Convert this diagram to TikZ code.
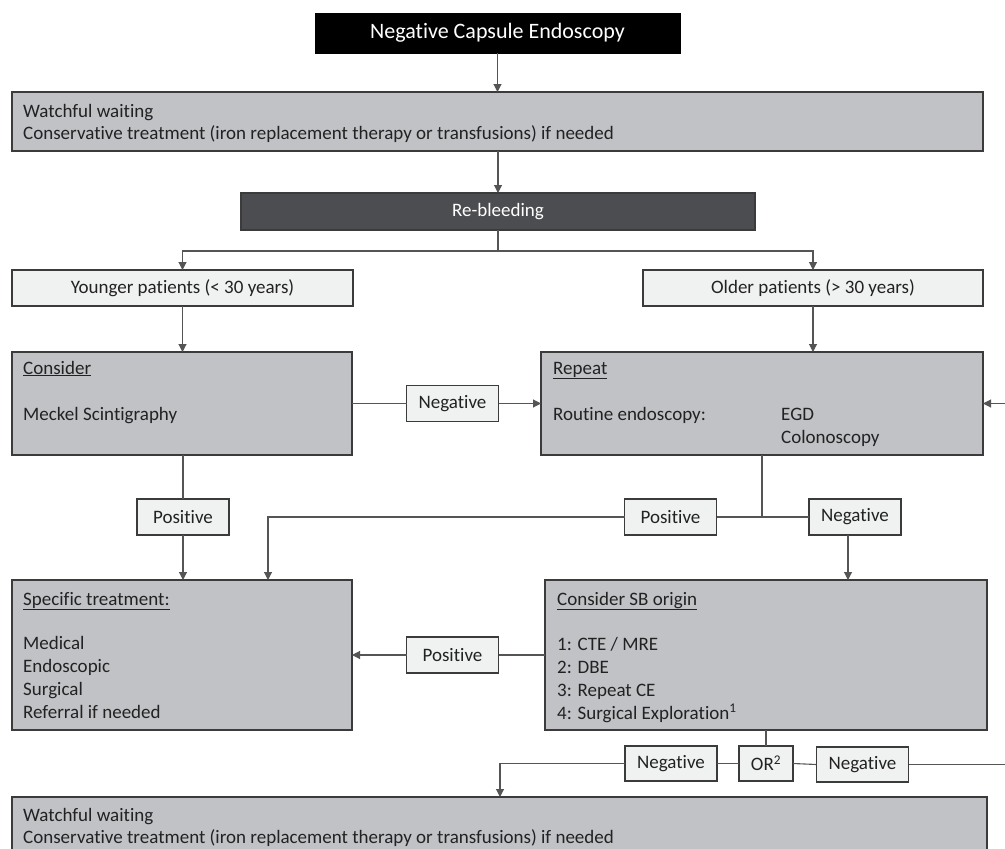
\documentclass[tikz,border=0pt]{standalone}
\usepackage{fontspec}
\setmainfont{Carlito}[Ligatures={NoCommon,NoContextual}]
\usetikzlibrary{arrows.meta}
\definecolor{boxgray}{HTML}{C0C2C5}
\definecolor{lightfill}{HTML}{F0F1F1}
\definecolor{darkfill}{HTML}{4C4D50}
\definecolor{edgeclr}{HTML}{3B3B3B}
\definecolor{lineclr}{HTML}{555555}
\definecolor{txtclr}{HTML}{222222}
\begin{document}
\begin{tikzpicture}[x=1pt,y=-1pt,
  every node/.style={font=\fontsize{19}{22}\selectfont},
  bigbox/.style={draw=edgeclr, line width=1.8pt, fill=boxgray, anchor=north west, inner sep=0pt, outer sep=0pt},
  lightbox/.style={draw=edgeclr, line width=1.5pt, fill=lightfill, anchor=north west, inner sep=0pt, outer sep=0pt, text=txtclr},
  blackbox/.style={draw=black, line width=1pt, fill=black, text=white, anchor=north west, inner sep=0pt, outer sep=0pt, font=\fontsize{22}{26}\selectfont},
  darkbox/.style={draw=edgeclr, line width=1.5pt, fill=darkfill, text=white, anchor=north west, inner sep=0pt, outer sep=0pt},
  tagbox/.style={draw=edgeclr, line width=1.3pt, fill=lightfill, inner sep=0pt, outer sep=0pt, minimum width=92pt, minimum height=36pt, text=txtclr},
  txt/.style={anchor=base west, inner sep=0pt, text=txtclr},
  conn/.style={draw=lineclr, line width=1.1pt},
  arr/.style={conn, -{Triangle[length=8pt,width=8pt]}}
]
\useasboundingbox (0,0) rectangle (1005,849);
\clip (0,0) rectangle (1005,849);

% main boxes
\node[blackbox, minimum width=365pt, minimum height=40pt] (top) at (315,13) {Negative Capsule Endoscopy};
\node[bigbox, minimum width=971pt, minimum height=59pt] (w1) at (12,92) {};
\node[darkbox, minimum width=514pt, minimum height=37pt] (reb) at (241,193) {Re-bleeding};
\node[lightbox, minimum width=341pt, minimum height=36pt] (young) at (12,270) {Younger patients (< 30 years)};
\node[lightbox, minimum width=340pt, minimum height=36pt] (old) at (643,270) {Older patients (> 30 years)};
\node[bigbox, minimum width=340pt, minimum height=103pt] (cons) at (12,352) {};
\node[bigbox, minimum width=442pt, minimum height=103pt] (rep) at (541,352) {};
\node[bigbox, minimum width=340pt, minimum height=150pt] (spec) at (12,580) {};
\node[bigbox, minimum width=442pt, minimum height=150pt] (sb) at (545,580) {};
\node[bigbox, minimum width=975pt, minimum height=90pt] (w2) at (12,797) {};

% tag boxes
\node[tagbox] (negA) at (452.5,403.5) {Negative};
\node[tagbox] (posA) at (183,517) {Positive};
\node[tagbox] (posB) at (670.5,517) {Positive};
\node[tagbox] (negB) at (855,517) {Negative};
\node[tagbox] (posC) at (452.5,655) {Positive};
\node[tagbox, minimum height=35pt] (negC) at (671,763.5) {Negative};
\node[tagbox, minimum width=54pt, minimum height=35pt] (orB) at (766,763.5) {OR\textsuperscript{2}};
\node[tagbox, minimum height=35pt] (negD) at (862.5,764.5) {Negative};

% texts
\node[txt] (w1a) at (23,117) {Watchful waiting};
\node[txt] (w1b) at (23,139) {Conservative treatment (iron replacement therapy or transfusions) if needed};
\node[txt] (consa) at (23,374) {\underline{Consider}};
\node[txt] (consb) at (23,420) {Meckel Scintigraphy};
\node[txt] (repa) at (553,374) {\underline{Repeat}};
\node[txt] (repb) at (553,420) {Routine endoscopy:};
\node[txt] (repc) at (781,420) {EGD};
\node[txt] (repd) at (781,443) {Colonoscopy};
\node[txt] (speca) at (23,605) {\underline{Specific treatment:}};
\node[txt] (specb) at (23,649) {Medical};
\node[txt] (specc) at (23,672) {Endoscopic};
\node[txt] (specd) at (23,695) {Surgical};
\node[txt] (spece) at (23,718) {Referral if needed};
\node[txt] (sba) at (557,605) {\underline{Consider SB origin}};
\node[txt] (sbb) at (557,650) {1: CTE / MRE};
\node[txt] (sbc) at (557,673) {2: DBE};
\node[txt] (sbd) at (557,696) {3: Repeat CE};
\node[txt] (sbe) at (557,719) {4: Surgical Exploration\textsuperscript{1}};
\node[txt] (w2a) at (23,821) {Watchful waiting};
\node[txt] (w2b) at (23,843) {Conservative treatment (iron replacement therapy or transfusions) if needed};

% connectors
\coordinate (jA) at (498,251);
\coordinate (jB) at (762,517);
\draw[arr] (top.south) -- (top.south |- w1.north);
\draw[arr] (reb.north |- w1.south) -- (reb.north);
\draw[conn] (reb.south) -- (jA);
\draw[arr] (jA) -| (young.north);
\draw[arr] (jA) -| (old.north);
\draw[arr] (young.south) -- (young.south |- cons.north);
\draw[arr] (old.south) -- (old.south |- rep.north);
\draw[conn] (cons.east |- negA) -- (negA.west);
\draw[arr] (negA.east) -- (negA.east -| rep.west);
\draw[conn] (posA.north |- cons.south) -- (posA.north);
\draw[arr] (posA.south) -- (posA.south |- spec.north);
\draw[conn] (rep.south -| jB) -- (jB);
\draw[conn] (jB) -- (posB.east);
\draw[conn] (jB) -- (negB.west);
\draw[arr] (posB.west) -| ([xshift=256pt]spec.north west);
\draw[arr] ([xshift=-7pt]negB.south) -- ([xshift=-7pt]negB.south |- sb.north);
\draw[conn] (sb.west |- posC) -- (posC.east);
\draw[arr] (posC.west) -- (posC.west -| spec.east);
\draw[conn] (sb.south) -- (orB.north);
\draw[conn] (orB.west) -- (negC.east);
\draw[conn] (orB.east) -- (negD.west);
\draw[arr] (negC.west) -| ([xshift=488pt]w2.north west);
\draw[arr] (negD.east) -- ++(160,0) |- (rep.east);
\end{tikzpicture}
\end{document}
